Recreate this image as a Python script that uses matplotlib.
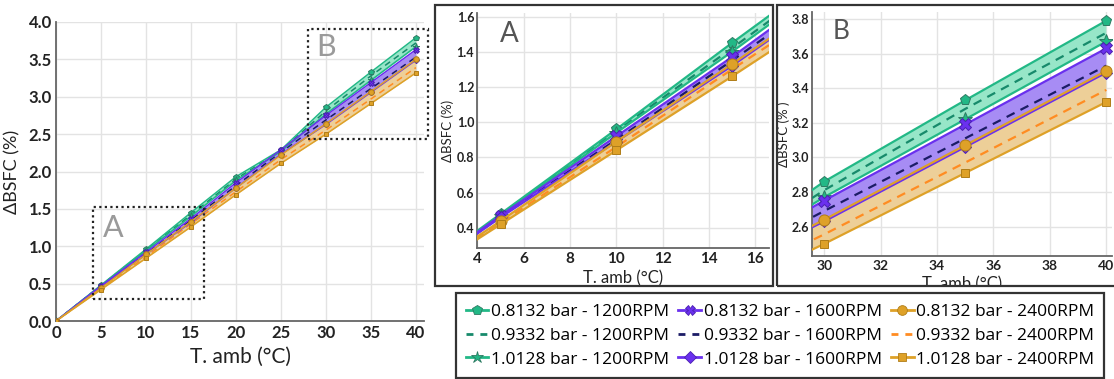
import matplotlib
matplotlib.use('Agg')
import matplotlib.pyplot as plt
from matplotlib.patches import Rectangle
from matplotlib.lines import Line2D
from matplotlib.transforms import Bbox, TransformedBbox

# ---------------- data ----------------
t_amb = [0, 5, 10, 15, 20, 25, 30, 35, 40]

p0812_1200 = [0, 0.48, 0.96, 1.45, 1.93, 2.29, 2.86, 3.33, 3.79]
p0933_1200 = [0, 0.475, 0.95, 1.42, 1.90, 2.28, 2.81, 3.28, 3.72]
p1013_1200 = [0, 0.47, 0.94, 1.40, 1.88, 2.27, 2.77, 3.22, 3.67]

p0812_1600 = [0, 0.47, 0.92, 1.37, 1.85, 2.29, 2.75, 3.19, 3.63]
p0933_1600 = [0, 0.465, 0.90, 1.35, 1.81, 2.26, 2.69, 3.11, 3.53]
p1013_1600 = [0, 0.46, 0.89, 1.32, 1.78, 2.23, 2.63, 3.06, 3.49]

p0812_2400 = [0, 0.44, 0.89, 1.33, 1.78, 2.22, 2.64, 3.07, 3.50]
p0933_2400 = [0, 0.43, 0.86, 1.30, 1.73, 2.16, 2.555, 2.97, 3.39]
p1013_2400 = [0, 0.42, 0.84, 1.26, 1.69, 2.11, 2.50, 2.91, 3.32]

labels = ["0.8132 bar - 1200RPM", "0.9332 bar - 1200RPM", "1.0128 bar - 1200RPM",
          "0.8132 bar - 1600RPM", "0.9332 bar - 1600RPM", "1.0128 bar - 1600RPM",
          "0.8132 bar - 2400RPM", "0.9332 bar - 2400RPM", "1.0128 bar - 2400RPM"]

# ---------------- styles ----------------
GREEN, PURPLE, ORANGE = "#22b886", "#6a30ee", "#dea128"
GREEN_F, PURPLE_F, ORANGE_F = "#97e6c8", "#a78cf4", "#edcf98"
styles = [
    dict(color=GREEN, ls='-', marker='p', mec="#2d7a62"),
    dict(color="#178a6b", ls=(0, (4, 3)), marker=None, mec=None),
    dict(color=GREEN, ls='-', marker='*', mec="#2d7a62"),
    dict(color=PURPLE, ls='-', marker='X', mec="#4a1fb0"),
    dict(color="#1c1c66", ls=(0, (4, 3)), marker=None, mec=None),
    dict(color=PURPLE, ls='-', marker='D', mec="#4a1fb0"),
    dict(color=ORANGE, ls='-', marker='o', mec="#b07d18"),
    dict(color="#ff8c22", ls=(0, (4, 3)), marker=None, mec=None),
    dict(color=ORANGE, ls='-', marker='s', mec="#b07d18"),
]
series = [p0812_1200, p0933_1200, p1013_1200,
          p0812_1600, p0933_1600, p1013_1600,
          p0812_2400, p0933_2400, p1013_2400]
fills = [(p0812_1200, p1013_1200, GREEN_F),
         (p0812_1600, p1013_1600, PURPLE_F),
         (p0812_2400, p1013_2400, ORANGE_F)]

FONT = 'Lato'
plt.rcParams['font.family'] = [FONT, 'DejaVu Sans']

fig = plt.figure(figsize=(11.14, 3.79), dpi=100)
W, H = 1114, 379


def fx(px):
    return px / W


def fy(py):
    return 1 - py / H


def style_axes(ax, tick_fs):
    for s in ['top', 'right']:
        ax.spines[s].set_visible(False)
    for s in ['left', 'bottom']:
        ax.spines[s].set_color('#666666')
        ax.spines[s].set_linewidth(1.3)
    ax.grid(True, color='#e3e3e3', lw=1.0)
    ax.set_axisbelow(True)
    ax.tick_params(length=0, labelsize=tick_fs, colors='#222222', pad=3)
    for lb in ax.get_xticklabels() + ax.get_yticklabels():
        lb.set_fontweight('bold')


def draw(ax, lw, ms):
    for lo, hi, c in fills:
        ax.fill_between(t_amb, lo, hi, color=c, lw=0, zorder=1)
    for vals, st in zip(series, styles):
        if st['marker'] is None:
            ax.plot(t_amb, vals, color=st['color'], ls=st['ls'], lw=lw, zorder=3)
        else:
            m = st['marker']
            size = ms * (1.3 if m == '*' else (0.8 if m in ('D', 's') else 1.0))
            ax.plot(t_amb, vals, color=st['color'], ls=st['ls'], lw=lw, marker=m,
                    ms=size, mfc=st['color'], mec=st['mec'], mew=0.7, zorder=4)


# ---------------- main chart ----------------
ax = fig.add_axes([fx(56), fy(321), fx(424) - fx(56), fy(22) - fy(321)])
draw(ax, 1.1, 4)
ax.set_xlim(0, 40.9)
ax.set_ylim(0, 4.0)
ax.set_xticks(range(0, 41, 5))
ax.set_yticks([i * 0.5 for i in range(9)])
ax.set_yticklabels([f"{i*0.5:.1f}" for i in range(9)])
style_axes(ax, 12)
ax.set_xlabel("T. amb (°C)", fontsize=15, labelpad=4, color='#222222')
ax.set_ylabel("ΔBSFC (%)", fontsize=13, labelpad=6, color='#222222')
ax.add_patch(Rectangle((4.1, 0.29), 12.3, 1.24, fill=False, ls=(0, (1, 1.5)),
                       lw=1.6, ec='#222222', clip_on=False, zorder=6))
ax.add_patch(Rectangle((28.0, 2.43), 13.4, 1.48, fill=False, ls=(0, (1, 1.5)),
                       lw=1.6, ec='#222222', clip_on=False, zorder=6))
ax.text(5.2, 1.24, "A", fontsize=22, color='#9a9a9a', ha='left', va='center', zorder=7)
ax.text(28.9, 3.67, "B", fontsize=22, color='#9a9a9a', ha='left', va='center', zorder=7)

# ---------------- panel frames ----------------
fig.patches.append(Rectangle((fx(435), fy(286)), fx(773) - fx(435), fy(5) - fy(286),
                             transform=fig.transFigure, fill=False, ec='#333333', lw=1.6))
fig.patches.append(Rectangle((fx(777), fy(286)), fx(1118) - fx(777), fy(5) - fy(286),
                             transform=fig.transFigure, fill=False, ec='#333333', lw=1.6,
                             clip_on=False))

# ---------------- panel A ----------------
axA = fig.add_axes([fx(477), fy(248), fx(769) - fx(477), fy(13) - fy(248)])
draw(axA, 1.6, 8)
axA.set_xlim(3.98, 16.6)
axA.set_ylim(0.286, 1.62)
axA.set_xticks(range(4, 17, 2))
axA.set_yticks([0.4, 0.6, 0.8, 1.0, 1.2, 1.4, 1.6])
axA.set_yticklabels(["0.4", "0.6", "0.8", "1.0", "1.2", "1.4", "1.6"])
style_axes(axA, 11)
axA.tick_params(axis='y', labelsize=9, pad=2)
axA.set_xlabel("T. amb (°C)", fontsize=12, labelpad=3, color='#222222')
axA.set_ylabel("ΔBSFC (%)", fontsize=9.5, labelpad=2, color='#222222')
axA.text(0.08, 0.91, "A", transform=axA.transAxes, fontsize=20, color='#555555',
         ha='left', va='center')
clipA = TransformedBbox(Bbox([[fx(435), fy(286)], [fx(773), fy(5)]]), fig.transFigure)
axA.xaxis.label.set_clip_box(clipA)
axA.xaxis.label.set_clip_on(True)

# ---------------- panel B ----------------
axB = fig.add_axes([fx(812), fy(256), fx(1112) - fx(812), fy(12) - fy(256)])
draw(axB, 1.6, 8)
axB.set_xlim(29.57, 40.2)
axB.set_ylim(2.43, 3.84)
axB.set_xticks(range(30, 41, 2))
axB.set_yticks([2.6, 2.8, 3.0, 3.2, 3.4, 3.6, 3.8])
axB.set_yticklabels(["2.6", "2.8", "3.0", "3.2", "3.4", "3.6", "3.8"])
style_axes(axB, 10)
axB.tick_params(axis='y', labelsize=9, pad=2)
axB.set_xlabel("T. amb (°C)", fontsize=12, labelpad=3, color='#222222')
axB.set_ylabel("ΔBSFC (% )", fontsize=9.5, labelpad=1, color='#222222')
axB.text(0.07, 0.92, "B", transform=axB.transAxes, fontsize=19, color='#555555',
         ha='left', va='center')
clipB = TransformedBbox(Bbox([[fx(777), fy(286)], [fx(1114), fy(5)]]), fig.transFigure)
axB.xaxis.label.set_clip_box(clipB)
axB.xaxis.label.set_clip_on(True)

# ---------------- legend ----------------
fig.patches.append(Rectangle((fx(456), fy(378)), fx(1104) - fx(456), fy(293) - fy(378),
                             transform=fig.transFigure, fill=False, ec='#333333', lw=1.6))
handles = []
for st in styles:
    if st['marker'] is None:
        handles.append(Line2D([], [], color=st['color'], ls=(0, (2.5, 2.5)), lw=2))
    else:
        m = st['marker']
        ms = 9 if m == '*' else (6 if m in ('D', 's') else 7)
        handles.append(Line2D([], [], color=st['color'], lw=2, marker=m, ms=ms,
                              mfc=st['color'], mec=st['mec'], mew=0.6))
leg = fig.legend(handles, labels, ncol=3, loc='center',
                 bbox_to_anchor=((fx(456) + fx(1104)) / 2, (fy(378) + fy(293)) / 2),
                 frameon=False, prop={'family': ['Open Sans', 'DejaVu Sans'], 'size': 12.5},
                 handlelength=1.3, handletextpad=0.15, columnspacing=0.55,
                 labelspacing=0.45, borderaxespad=0)

fig.savefig("out.png", dpi=100)
